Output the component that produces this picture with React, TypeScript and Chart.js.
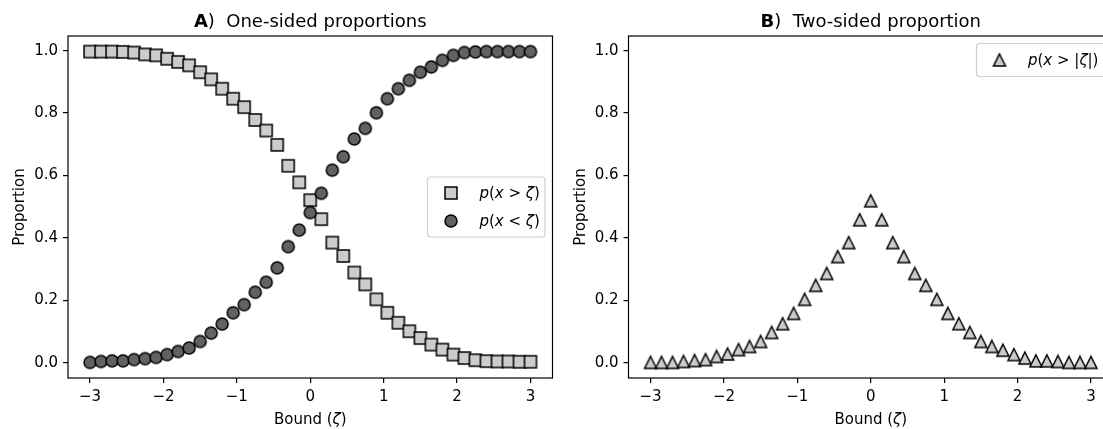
import React, { useEffect, useRef } from 'react';
import { Chart, registerables } from 'chart.js';

Chart.register(...registerables);

// ---- data ----
const bounds = [
  -3, -2.85, -2.7, -2.55, -2.4, -2.25, -2.1, -1.95, -1.8, -1.65, -1.5, -1.35, -1.2, -1.05,
  -0.9, -0.75, -0.6, -0.45, -0.3, -0.15, 0, 0.15, 0.3, 0.45, 0.6, 0.75, 0.9, 1.05, 1.2,
  1.35, 1.5, 1.65, 1.8, 1.95, 2.1, 2.25, 2.4, 2.55, 2.7, 2.85, 3,
];

const pAbove = [
  0.997, 0.997, 0.997, 0.996, 0.994, 0.988, 0.985, 0.974, 0.964, 0.953,
  0.931, 0.908, 0.878, 0.846, 0.819, 0.778, 0.744, 0.698, 0.631, 0.578,
  0.521,
  0.46, 0.385, 0.342, 0.289, 0.251, 0.203, 0.16, 0.128, 0.101, 0.079,
  0.058, 0.042, 0.026, 0.015, 0.008, 0.005, 0.004, 0.004, 0.003, 0.003,
];

const pBelow = [
  0.001, 0.004, 0.006, 0.006, 0.01, 0.013, 0.017, 0.026, 0.036, 0.047,
  0.068, 0.095, 0.124, 0.16, 0.186, 0.226, 0.258, 0.304, 0.372, 0.425,
  0.481,
  0.543, 0.617, 0.66, 0.717, 0.751, 0.801, 0.846, 0.878, 0.905, 0.931,
  0.948, 0.969, 0.985, 0.994, 0.996, 0.997, 0.997, 0.997, 0.997, 0.997,
];

const pTwoSided = [
  0.001, 0.001, 0.001, 0.004, 0.007, 0.01, 0.02, 0.028, 0.042, 0.052,
  0.068, 0.097, 0.125, 0.158, 0.203, 0.248, 0.286, 0.34, 0.385, 0.458,
  0.519,
  0.458, 0.385, 0.34, 0.286, 0.248, 0.203, 0.158, 0.125, 0.097, 0.068,
  0.052, 0.04, 0.026, 0.015, 0.006, 0.006, 0.004, 0.001, 0.001, 0.001,
];

const xTicks = [-3, -2, -1, 0, 1, 2, 3];
const yTicks = [0, 0.2, 0.4, 0.6, 0.8, 1.0];

// ---- styling ----
const FAMILY = '"DejaVu Sans"';
const F_TICK = 15;
const F_LABEL = 15;
const F_LEGEND = 15;
const F_TITLE = 18;
const normal = (s: number) => `${s}px ${FAMILY}`;
const italic = (s: number) => `italic ${s}px ${FAMILY}`;
const bold = (s: number) => `bold ${s}px ${FAMILY}`;

type Run = { t: string; f: string };

function drawRuns(ctx: CanvasRenderingContext2D, runs: Run[], x: number, y: number, align: 'left' | 'center') {
  ctx.save();
  ctx.textBaseline = 'alphabetic';
  ctx.textAlign = 'left';
  ctx.fillStyle = '#000';
  let total = 0;
  const widths = runs.map((r) => {
    ctx.font = r.f;
    const w = ctx.measureText(r.t).width;
    total += w;
    return w;
  });
  let cx = align === 'center' ? x - total / 2 : x;
  runs.forEach((r, i) => {
    ctx.font = r.f;
    ctx.fillText(r.t, cx, y);
    cx += widths[i];
  });
  ctx.restore();
}

function makeMarker(shape: 'square' | 'circle' | 'triangle', fill: string): HTMLCanvasElement {
  const s = 12;
  const dim = 16;
  const c = document.createElement('canvas');
  c.width = dim;
  c.height = dim;
  const g = c.getContext('2d')!;
  const h = s / 2;
  const cx = dim / 2;
  const cy = dim / 2;
  g.beginPath();
  if (shape === 'square') g.rect(cx - h, cy - h, s, s);
  else if (shape === 'circle') g.arc(cx, cy, h, 0, Math.PI * 2);
  else {
    g.moveTo(cx, cy - h);
    g.lineTo(cx + h, cy + h);
    g.lineTo(cx - h, cy + h);
    g.closePath();
  }
  g.fillStyle = fill;
  g.fill();
  g.lineWidth = 1.5;
  g.lineJoin = 'miter';
  g.strokeStyle = '#000';
  g.stroke();
  return c;
}

const fmtX = (v: number) => (v < 0 ? '\u2212' + Math.abs(v) : String(v));
const fmtY = (v: number) => v.toFixed(1);

type LegendItem = { marker: HTMLCanvasElement; mx: number; my: number; tx: number; runs: Run[] };
type LegendSpec = { x: number; y: number; w: number; h: number; items: LegendItem[] };

function roundRect(ctx: CanvasRenderingContext2D, x: number, y: number, w: number, h: number, r: number) {
  ctx.beginPath();
  ctx.moveTo(x + r, y);
  ctx.lineTo(x + w - r, y);
  ctx.arcTo(x + w, y, x + w, y + r, r);
  ctx.lineTo(x + w, y + h - r);
  ctx.arcTo(x + w, y + h, x + w - r, y + h, r);
  ctx.lineTo(x + r, y + h);
  ctx.arcTo(x, y + h, x, y + h - r, r);
  ctx.lineTo(x, y + r);
  ctx.arcTo(x, y, x + r, y, r);
  ctx.closePath();
}

function makeConfig(
  datasets: any[],
  yAxisWidth: number,
  padRight: number,
  title: Run[],
  legend: LegendSpec,
  yLabelX: number
): any {
  const decor = {
    id: 'decor',
    afterDatasetsDraw(chart: any) {
      const ctx: CanvasRenderingContext2D = chart.ctx;
      const a = chart.chartArea;
      ctx.save();
      ctx.strokeStyle = '#000';
      ctx.lineWidth = 1.2;
      ctx.strokeRect(a.left, a.top, a.right - a.left, a.bottom - a.top);
      ctx.restore();
    },
    afterDraw(chart: any) {
      const ctx: CanvasRenderingContext2D = chart.ctx;
      const a = chart.chartArea;
      const midX = (a.left + a.right) / 2;
      const midY = (a.top + a.bottom) / 2;
      // legend
      ctx.save();
      roundRect(ctx, legend.x, legend.y, legend.w, legend.h, 3);
      ctx.fillStyle = 'rgba(255,255,255,0.8)';
      ctx.fill();
      ctx.strokeStyle = '#d0d0d0';
      ctx.lineWidth = 1.2;
      ctx.stroke();
      ctx.restore();
      legend.items.forEach((it) => {
        ctx.drawImage(it.marker, it.mx - it.marker.width / 2, it.my - it.marker.height / 2);
        drawRuns(ctx, it.runs, it.tx, it.my + 5, 'left');
      });
      // title
      drawRuns(ctx, title, midX, 27, 'center');
      // x label
      drawRuns(
        ctx,
        [
          { t: 'Bound (', f: normal(F_LABEL) },
          { t: '\u03b6', f: italic(F_LABEL) },
          { t: ')', f: normal(F_LABEL) },
        ],
        midX,
        424,
        'center'
      );
      // y label
      ctx.save();
      ctx.translate(yLabelX, midY);
      ctx.rotate(-Math.PI / 2);
      drawRuns(ctx, [{ t: 'Proportion', f: normal(F_LABEL) }], 0, 0, 'center');
      ctx.restore();
    },
  };

  const grid = {
    display: true,
    drawOnChartArea: false,
    drawTicks: true,
    tickLength: 5,
    color: '#000',
    lineWidth: 1.2,
  };

  return {
    type: 'scatter',
    data: { datasets },
    options: {
      animation: false,
      responsive: false,
      devicePixelRatio: 1,
      events: [],
      layout: { padding: { left: 0, right: padRight, top: 36, bottom: 0 } },
      plugins: {
        legend: { display: false },
        tooltip: { enabled: false },
        title: { display: false },
      },
      scales: {
        x: {
          type: 'linear',
          min: -3.3,
          max: 3.3,
          afterBuildTicks: (s: any) => {
            s.ticks = xTicks.map((v) => ({ value: v }));
          },
          afterFit: (s: any) => {
            s.height = 51;
          },
          grid,
          border: { display: false },
          ticks: {
            font: { family: FAMILY, size: F_TICK },
            color: '#000',
            padding: 5,
            maxRotation: 0,
            autoSkip: false,
            callback: (v: number) => fmtX(v),
          },
        },
        y: {
          type: 'linear',
          min: -0.049,
          max: 1.047,
          afterBuildTicks: (s: any) => {
            s.ticks = yTicks.map((v) => ({ value: v }));
          },
          afterFit: (s: any) => {
            s.width = yAxisWidth;
          },
          grid,
          border: { display: false },
          ticks: {
            font: { family: FAMILY, size: F_TICK },
            color: '#000',
            padding: 5,
            autoSkip: false,
            callback: (v: number) => fmtY(v),
          },
        },
      },
    },
    plugins: [decor],
  };
}

export default function App() {
  const leftRef = useRef<HTMLCanvasElement>(null);
  const rightRef = useRef<HTMLCanvasElement>(null);

  useEffect(() => {
    const sq = makeMarker('square', '#cccccc');
    const ci = makeMarker('circle', '#626262');
    const tri = makeMarker('triangle', '#cccccc');

    const leftDatasets = [
      {
        label: 'p(x > ζ)',
        data: bounds.map((x, i) => ({ x, y: pAbove[i] })),
        pointStyle: sq,
        pointRadius: 6,
        showLine: false,
        order: 2,
      },
      {
        label: 'p(x < ζ)',
        data: bounds.map((x, i) => ({ x, y: pBelow[i] })),
        pointStyle: ci,
        pointRadius: 6,
        showLine: false,
        order: 1,
      },
    ];
    const rightDatasets = [
      {
        label: 'p(x > |ζ|)',
        data: bounds.map((x, i) => ({ x, y: pTwoSided[i] })),
        pointStyle: tri,
        pointRadius: 6,
        showLine: false,
      },
    ];

    const leftLegend: LegendSpec = {
      x: 427.5,
      y: 177,
      w: 117.5,
      h: 60,
      items: [
        {
          marker: sq,
          mx: 451,
          my: 193,
          tx: 479.5,
          runs: [
            { t: 'p', f: italic(F_LEGEND) },
            { t: '(', f: normal(F_LEGEND) },
            { t: 'x', f: italic(F_LEGEND) },
            { t: ' > ', f: normal(F_LEGEND) },
            { t: '\u03b6', f: italic(F_LEGEND) },
            { t: ')', f: normal(F_LEGEND) },
          ],
        },
        {
          marker: ci,
          mx: 451,
          my: 221,
          tx: 479.5,
          runs: [
            { t: 'p', f: italic(F_LEGEND) },
            { t: '(', f: normal(F_LEGEND) },
            { t: 'x', f: italic(F_LEGEND) },
            { t: ' < ', f: normal(F_LEGEND) },
            { t: '\u03b6', f: italic(F_LEGEND) },
            { t: ')', f: normal(F_LEGEND) },
          ],
        },
      ],
    };

    const rightLegend: LegendSpec = {
      x: 416.5,
      y: 43.5,
      w: 129,
      h: 33,
      items: [
        {
          marker: tri,
          mx: 439.5,
          my: 60,
          tx: 468,
          runs: [
            { t: 'p', f: italic(F_LEGEND) },
            { t: '(', f: normal(F_LEGEND) },
            { t: 'x', f: italic(F_LEGEND) },
            { t: ' > |', f: normal(F_LEGEND) },
            { t: '\u03b6', f: italic(F_LEGEND) },
            { t: '|)', f: normal(F_LEGEND) },
          ],
        },
      ],
    };

    const c1 = new Chart(
      leftRef.current!,
      makeConfig(
        leftDatasets,
        68,
        7.5,
        [
          { t: 'A', f: bold(F_TITLE) },
          { t: ')  One-sided proportions', f: normal(F_TITLE) },
        ],
        leftLegend,
        24
      )
    );
    const c2 = new Chart(
      rightRef.current!,
      makeConfig(
        rightDatasets,
        68.5,
        17,
        [
          { t: 'B', f: bold(F_TITLE) },
          { t: ')  Two-sided proportion', f: normal(F_TITLE) },
        ],
        rightLegend,
        24.5
      )
    );
    return () => {
      c1.destroy();
      c2.destroy();
    };
  }, []);

  return (
    <div
      style={{
        position: 'absolute',
        left: 0,
        top: 0,
        width: 1103,
        height: 429,
        overflow: 'hidden',
        background: '#fff',
      }}
    >
      <canvas
        ref={leftRef}
        width={560}
        height={429}
        style={{ position: 'absolute', left: 0, top: 0, width: 560, height: 429 }}
      />
      <canvas
        ref={rightRef}
        width={570}
        height={429}
        style={{ position: 'absolute', left: 560, top: 0, width: 570, height: 429 }}
      />
    </div>
  );
}
